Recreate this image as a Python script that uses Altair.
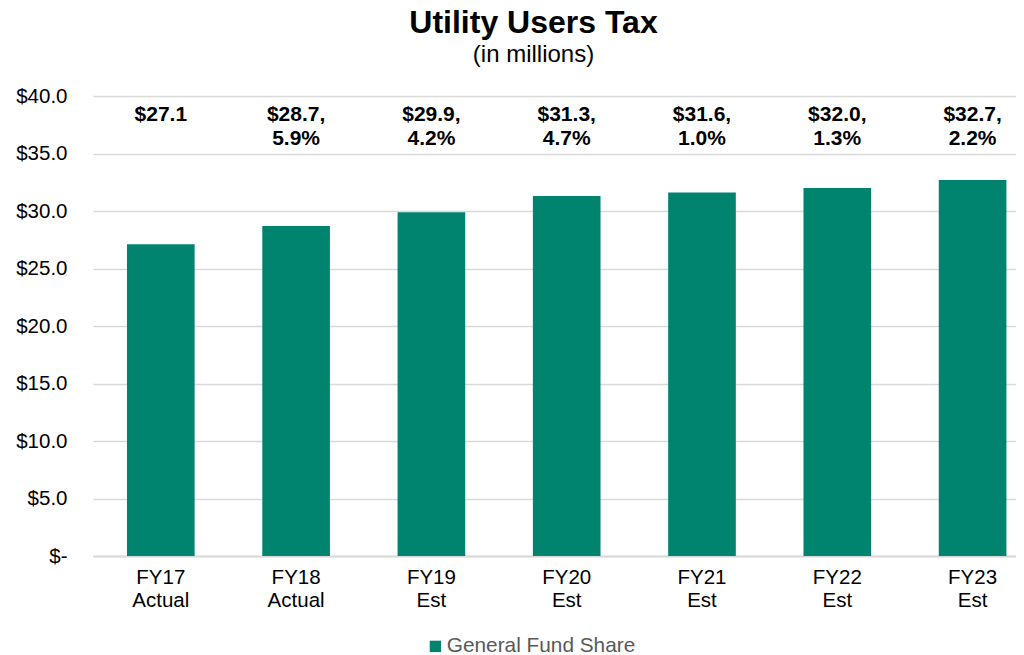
import altair as alt
import pandas as pd

categories = ["FY17|Actual", "FY18|Actual", "FY19|Est", "FY20|Est", "FY21|Est", "FY22|Est", "FY23|Est"]
values = [27.1, 28.7, 29.9, 31.3, 31.6, 32.0, 32.7]
growth = ["", "5.9%", "4.2%", "4.7%", "1.0%", "1.3%", "2.2%"]
series = ["General Fund Share"] * len(categories)

labels = [f"${v:.1f}" + (f",\n{g}" if g else "") for v, g in zip(values, growth)]

df = pd.DataFrame({"cat": categories, "value": values, "label": labels, "series": series})

FONT = "Liberation Sans"
TEAL = "#00846F"

x = alt.X(
    "cat:N",
    sort=categories,
    title=None,
    scale=alt.Scale(paddingInner=0.5, paddingOuter=0.161, align=0.78),
    axis=alt.Axis(
        labelExpr="split(datum.label, '|')",
        labelAngle=0,
        labelFont=FONT,
        labelFontSize=20.5,
        labelColor="#000000",
        labelLineHeight=23,
        labelPadding=11,
        ticks=False,
        domainColor="#d9d9d9",
        domainWidth=2,
        grid=False,
    ),
)

bars = alt.Chart(df).mark_bar(color=TEAL).encode(
    x=x,
    y=alt.Y(
        "value:Q",
        title=None,
        scale=alt.Scale(domain=[0, 40]),
        axis=alt.Axis(
            values=[0, 5, 10, 15, 20, 25, 30, 35, 40],
            labelExpr="datum.value == 0 ? '$-' : '$' + format(datum.value, '.1f')",
            labelFont=FONT,
            labelFontSize=20.5,
            labelColor="#000000",
            labelPadding=26,
            ticks=False,
            domain=False,
            gridColor="#d9d9d9",
            gridWidth=1.5,
        ),
    ),
    fill=alt.Fill(
        "series:N",
        scale=alt.Scale(domain=["General Fund Share"], range=[TEAL]),
        legend=alt.Legend(
            title=None,
            orient="none",
            legendX=332,
            legendY=540,
            symbolType="square",
            symbolSize=130,
            symbolStrokeWidth=0,
            labelFont=FONT,
            labelFontSize=20.8,
            labelColor="#595959",
            labelOffset=1,
            labelLimit=0,
        ),
    ),
)

text = alt.Chart(df).mark_text(
    font=FONT,
    fontSize=21,
    fontWeight="bold",
    color="#000000",
    baseline="top",
    lineBreak="\n",
    lineHeight=24,
).encode(
    x=alt.X("cat:N", sort=categories),
    y=alt.value(8),
    text="label:N",
)

chart = (
    alt.layer(bars, text)
    .properties(
        width=923,
        height=460,
        autosize=alt.AutoSizeParams(type="none"),
        padding={"left": 85, "top": 88, "right": 0, "bottom": 99},
        title=alt.TitleParams(
            text="Utility Users Tax",
            subtitle="(in millions)",
            font=FONT,
            fontSize=32,
            fontWeight="bold",
            color="#000000",
            subtitleFont=FONT,
            subtitleFontSize=24,
            subtitleColor="#000000",
            subtitlePadding=3,
            anchor="middle",
            dx=-21,
            offset=18,
        ),
    )
    .configure_view(stroke=None)
)

chart.save("out.html", embed_options={"renderer": "svg", "actions": False})
